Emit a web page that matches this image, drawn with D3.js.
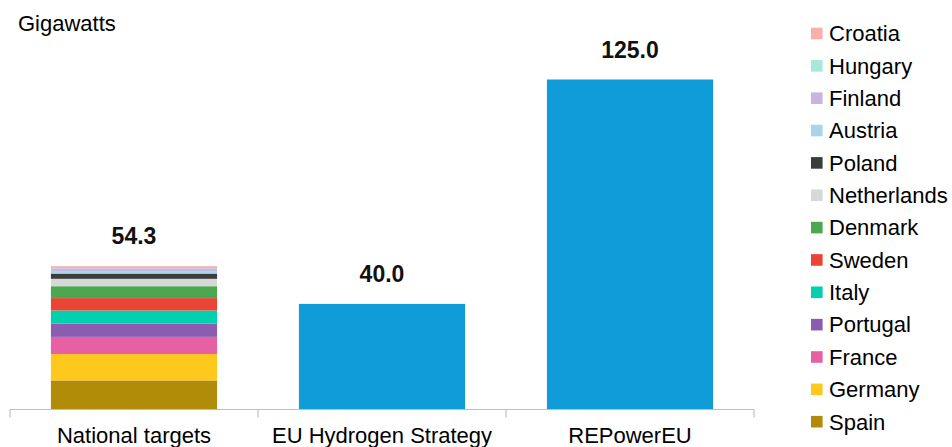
<!DOCTYPE html>
<html>
<head>
<meta charset="utf-8">
<script src="https://cdn.jsdelivr.net/npm/d3@7"></script>
<style>
  html, body { margin: 0; padding: 0; background: #fff; }
  svg { display: block; font-family: "Liberation Sans", Arial, sans-serif; }
</style>
</head>
<body>
<svg id="chart" width="952" height="447"></svg>
<script>
// Electrolyser capacity targets, in gigawatts
const categories = ["National targets", "EU Hydrogen Strategy", "REPowerEU"];

// Countries stacked from the bottom of the first bar upwards
const countries = ["Spain", "Germany", "France", "Portugal", "Italy", "Sweden",
                   "Denmark", "Netherlands", "Poland", "Austria", "Finland", "Hungary", "Croatia"];
const nationalTargets = [11, 10, 6.5, 5, 5, 4.7, 4.5, 2.8, 2, 1, 1, 0.1, 0.7];
const countryColors = ["#b08c08", "#ffc81c", "#e860a4", "#8c5cb0", "#00d0b0", "#ec4434",
                       "#4ca850", "#d8d8d8", "#3c3c3c", "#a8d4ec", "#c8b4e0", "#a8e8dc", "#f8b0a8"];

// EU-level targets (no national split)
const euTargets = [0, 40, 125];
const euColor = "#109cd8";

const unitLabel = "Gigawatts";

// Build one row per category for d3.stack
const keys = countries.concat(["EU"]);
const rows = categories.map((c, i) => {
  const row = { category: c };
  countries.forEach((k, j) => { row[k] = i === 0 ? nationalTargets[j] : 0; });
  row.EU = euTargets[i];
  return row;
});
const series = d3.stack().keys(keys)(rows);
const totals = rows.map(r => d3.sum(keys, k => r[k]));

const svg = d3.select("#chart");

const x = d3.scaleBand().domain(categories).range([10, 754]).paddingInner(0.33).paddingOuter(0.165);
const y = d3.scaleLinear().domain([0, d3.max(totals)]).range([409.5, 79.5]);
const color = d3.scaleOrdinal().domain(keys).range(countryColors.concat([euColor]));

// Bars
svg.append("g").selectAll("g")
  .data(series)
  .join("g")
  .attr("fill", d => color(d.key))
  .selectAll("rect")
  .data(d => d)
  .join("rect")
  .attr("x", d => x(d.data.category))
  .attr("width", x.bandwidth())
  .attr("y", d => y(d[1]))
  .attr("height", d => y(d[0]) - y(d[1]));

// Category axis along the baseline
const xAxis = svg.append("g")
  .attr("transform", `translate(0,${y(0)})`)
  .call(d3.axisBottom(x).tickSize(0).tickPadding(18));
xAxis.select(".domain").attr("stroke", "#bfbfbf").attr("stroke-width", 1.2)
  .attr("d", "M10,0H754");
xAxis.selectAll(".tick text")
  .attr("font-size", 22).attr("fill", "#000")
  .attr("font-family", "Liberation Sans, Arial, sans-serif");
// Tick marks sit between the categories
const step = x.step();
const boundaries = d3.range(categories.length + 1).map(i => x.range()[0] + i * step);
xAxis.selectAll("line.sep")
  .data(boundaries)
  .join("line")
  .attr("class", "sep")
  .attr("x1", d => d).attr("x2", d => d)
  .attr("y1", 0).attr("y2", 8)
  .attr("stroke", "#bfbfbf").attr("stroke-width", 1.2);

// Total labels above each bar
svg.append("g").selectAll("text")
  .data(categories)
  .join("text")
  .attr("x", d => x(d) + x.bandwidth() / 2)
  .attr("y", (d, i) => y(totals[i]) - 22)
  .attr("text-anchor", "middle")
  .attr("font-size", 23)
  .attr("font-weight", "bold")
  .attr("fill", "#111")
  .text((d, i) => d3.format(".1f")(totals[i]));

// Unit label
svg.append("text")
  .attr("x", 18).attr("y", 31)
  .attr("font-size", 22)
  .attr("fill", "#000")
  .text(unitLabel);

// Legend, top of the stack first
const legendItems = countries.slice().reverse();
const legend = svg.append("g").selectAll("g")
  .data(legendItems)
  .join("g")
  .attr("transform", (d, i) => `translate(811,${33.5 + i * 32.35})`);
legend.append("rect")
  .attr("x", 0).attr("y", -5.8)
  .attr("width", 11.6).attr("height", 11.6)
  .attr("fill", d => color(d));
legend.append("text")
  .attr("x", 18).attr("y", 7.8)
  .attr("font-size", 22)
  .attr("fill", "#000")
  .text(d => d);
</script>
</body>
</html>
